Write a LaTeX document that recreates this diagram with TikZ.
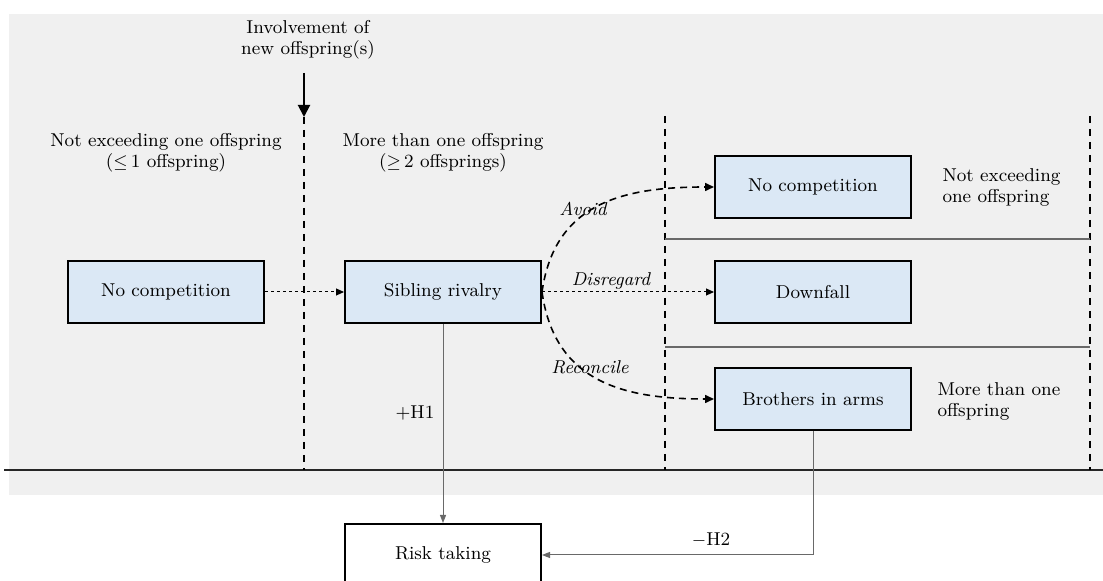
\documentclass[tikz,border=0pt]{standalone}
\usetikzlibrary{arrows.meta}

\definecolor{bggray}{RGB}{240,240,240}
\definecolor{boxblue}{RGB}{219,232,245}
\definecolor{linegray}{RGB}{105,105,105}

\tikzset{every picture/.style={line width=0.5pt}}
\tikzset{
  box/.style={draw, line width=1pt, fill=boxblue, minimum width=98pt, minimum height=31pt, inner sep=0pt},
  riskbox/.style={draw, line width=1pt, fill=white, minimum width=98pt, minimum height=31pt, inner sep=0pt},
  divider/.style={line width=0.75pt, dash pattern={on 3.5pt off 3pt}},
  flow/.style={dash pattern={on 1.5pt off 1.5pt}, -{Triangle[length=4pt,width=3.5pt]}},
  choice/.style={line width=0.8pt, dash pattern={on 3.5pt off 2.5pt}, -{Triangle[length=4.5pt,width=4pt]}},
  effect/.style={color=linegray, -{Triangle[length=4pt,width=3pt]}},
  label/.style={align=center, inner sep=0pt},
}

\begin{document}
\begin{tikzpicture}[x=0.5pt, y=-0.5pt, font=\fontsize{9.3}{10.5}\selectfont]
    \useasboundingbox (0,0) rectangle (1103,581);
    \fill[bggray] (9,14) rectangle (1103,495);
    \draw[line width=1pt, black!85] (4,470) -- (1103,470);

    \node[label] (involve) at (308,40) {Involvement of\\new offspring(s)};
    \coordinate (arrtop) at (304,73);
    \coordinate (arrtip) at (304,117);
    \draw[line width=1pt, -{Triangle[length=6pt,width=6pt]}] (arrtop) -- (arrtip);

    \draw[divider] (arrtip) -- (304,470);
    \draw[divider] (665,116) -- (665,470);
    \draw[divider] (1090,116) -- (1090,470);
    \draw[linegray, line width=0.75pt] (665,239) -- (1090,239);
    \draw[linegray, line width=0.75pt] (665,347) -- (1090,347);

    \node[label] (single) at (166,153) {Not exceeding one offspring\\($\leq$\,1 offspring)};
    \node[label] (multi) at (443,153) {More than one offspring\\($\geq$\,2 offsprings)};

    \node[box] (nocomp) at (166,292) {No competition};
    \node[box] (sibling) at (443,292) {Sibling rivalry};
    \node[box] (avoided) at (813,187) {No competition};
    \node[box] (downfall) at (813,292) {Downfall};
    \node[box] (brothers) at (813,399) {Brothers in arms};
    \node[riskbox] (risk) at (443,555) {Risk taking};

    \node[label, align=left, anchor=west] (oneoff) at (942,187) {Not exceeding\\one offspring};
    \node[label, align=left, anchor=west] (moreoff) at (937,401) {More than one\\offspring};

    \draw[flow] (nocomp) -- (sibling);
    \draw[flow] (sibling) -- (downfall);
    \draw[choice] (sibling.east) to[out=82, in=180, looseness=1.15] (avoided.west);
    \draw[choice] (sibling.east) to[out=-82, in=180, looseness=1.15] (brothers.west);
    \node[label] (avoid) at (583,209) {\itshape Avoid};
    \node[label] (disregard) at (611,281) {\itshape Disregard};
    \node[label] (reconcile) at (590,367) {\itshape Reconcile};

    \draw[effect] (sibling) -- (risk);
    \draw[effect] (brothers) |- (risk);
    \node[label] (h1) at (415,413) {+H1};
    \node[label] (h2) at (711,540) {$-$H2};
\end{tikzpicture}
\end{document}
